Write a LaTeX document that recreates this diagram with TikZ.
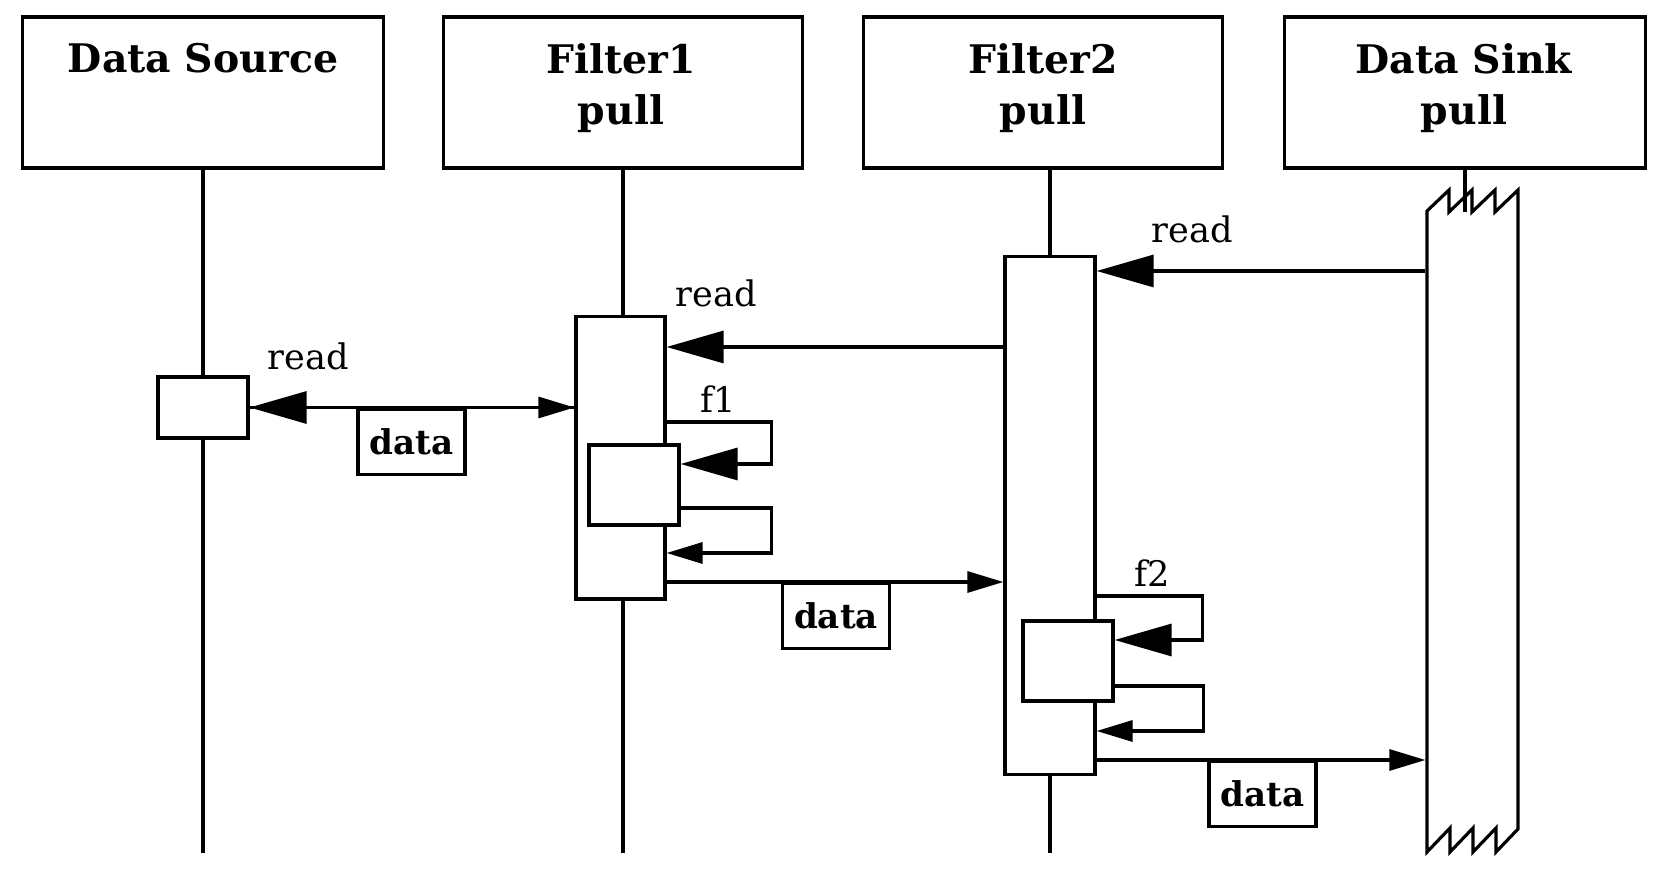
\documentclass[tikz,border=0pt]{standalone}
\usepackage{fontspec}
\setmainfont{DejaVu Serif}
\usetikzlibrary{arrows.meta,positioning}

\begin{document}
\begin{tikzpicture}[x=0.01cm, y=-0.01cm, line width=0.9pt]
		\tikzstyle{Head} 	= [draw, minimum width=3.6cm, minimum height=1.51cm, inner sep=0pt]
		\tikzstyle{Title}	= [anchor=base, align=center, font=\fontsize{11.2}{14.7}\selectfont\bfseries]
		\tikzstyle{Act}		= [draw, fill=white, inner sep=0pt]
		\tikzstyle{Msg}		= [anchor=base, font=\fontsize{10}{12}\selectfont]
		\tikzstyle{Data}	= [draw, anchor=north, minimum width=1.07cm, minimum height=0.65cm, inner sep=0pt, font=\fontsize{9.7}{11}\selectfont\bfseries]
		\tikzstyle{Call}	= [-{Triangle[length=0.57cm, width=0.32cm]}]
		\tikzstyle{Ret}		= [-{Triangle[length=0.36cm, width=0.21cm]}]

		\useasboundingbox (0,0) rectangle (1661,889);

		% objects
		\node (src) at (203, 92.5) [Head] {};
		\node (f1) at (623, 92.5) [Head, minimum width=3.58cm] {};
		\node (f2) at (1043, 92.5) [Head, minimum width=3.58cm] {};
		\node (snk) at (1465, 92.5) [Head, minimum width=3.61cm] {};
		\node (t1) at (203, 73) [Title] {Data Source};
		\node (t2) at (621, 125) [Title] {Filter1\\pull};
		\node (t3) at (1043, 125) [Title] {Filter2\\pull};
		\node (t4) at (1464, 125) [Title] {Data Sink\\pull};

		% message levels
		\coordinate (yEnd) at (0, 853);
		\coordinate (yR3) at (0, 271);
		\coordinate (yR2) at (0, 347);
		\coordinate (yF1a) at (0, 422);
		\coordinate (yF1b) at (0, 464);
		\coordinate (yF1c) at (0, 508);
		\coordinate (yF1d) at (0, 553);
		\coordinate (yD2) at (0, 582);
		\coordinate (yF2a) at (0, 596);
		\coordinate (yF2b) at (0, 640);
		\coordinate (yF2c) at (0, 686);
		\coordinate (yF2d) at (0, 731);
		\coordinate (yD3) at (0, 760);
		\coordinate (ySnk) at (0, 212);

		% activations
		\node (srcAct) at (203, 407.5) [Act, minimum width=0.9cm, minimum height=0.61cm] {};
		\node (f1Act) at (620.5, 458) [Act, minimum width=0.89cm, minimum height=2.82cm] {};
		\node (f1Self) at (634, 485) [Act, minimum width=0.9cm, minimum height=0.8cm] {};
		\node (f2Act) at (1050, 515.5) [Act, minimum width=0.9cm, minimum height=5.17cm] {};
		\node (f2Self) at (1068, 661) [Act, minimum width=0.9cm, minimum height=0.8cm] {};
		\node (sink) at (1472.5, 521) [minimum width=0.91cm, minimum height=6.62cm, inner sep=0pt] {};
		\draw (1427,211) -- (1449,190) -- (1449,212) -- (1472,190) -- (1472,212) -- (1495,190) -- (1495,212) -- (1518,190)
			-- (1518,829) -- (1496,852) -- (1496,828) -- (1473,852) -- (1473,828) -- (1450,852) -- (1450,828) -- (1427,852) -- cycle;

		% lifelines
		\draw (src.south) -- (srcAct.north);
		\draw (srcAct.south) -- (srcAct.south |- yEnd);
		\draw (f1.south) -- (f1.south |- f1Act.north);
		\draw (f1.south |- f1Act.south) -- (f1.south |- yEnd);
		\draw (f2Act.north |- f2.south) -- (f2Act.north);
		\draw (f2Act.south) -- (f2Act.south |- yEnd);
		\draw (snk.south) -- (snk.south |- ySnk);

		% read calls
		\draw [Call] (sink.west |- yR3) to (f2Act.east |- yR3);
		\draw [Call] (f2Act.west |- yR2) to (f1Act.east |- yR2);
		\draw [Call] (f1Act.west |- srcAct.east) to (srcAct.east);
		\node (r3) at (1192, 243) [Msg] {read};
		\node (r2) at (716, 307) [Msg] {read};
		\node (r1) at (308, 370) [Msg] {read};

		% filter calls
		\draw [Call] (f1Act.east |- yF1a) -- ++(105,0) |- (f1Self.east |- yF1b);
		\draw [Ret] (f1Self.east |- yF1c) -- ++(91,0) |- (f1Act.east |- yF1d);
		\draw [Call] (f2Act.east |- yF2a) -- ++(106,0) |- (f2Self.east |- yF2b);
		\draw [Ret] (f2Self.east |- yF2c) -- ++(89,0) |- (f2Act.east |- yF2d);
		\node (c1) at (718, 413) [Msg] {f1};
		\node (c2) at (1152, 587) [Msg] {f2};

		% data returns
		\draw [Ret] (srcAct.east) to (f1Act.west |- srcAct.east);
		\draw [Ret] (f1Act.east |- yD2) to (f2Act.west |- yD2);
		\draw [Ret] (f2Act.east |- yD3) to (sink.west |- yD3);
		\node (d1) at (411.5, 408) [Data] {data};
		\node (d2) at (836, 582) [Data] {data};
		\node (d3) at (1262.5, 760) [Data] {data};
	\end{tikzpicture}
\end{document}
